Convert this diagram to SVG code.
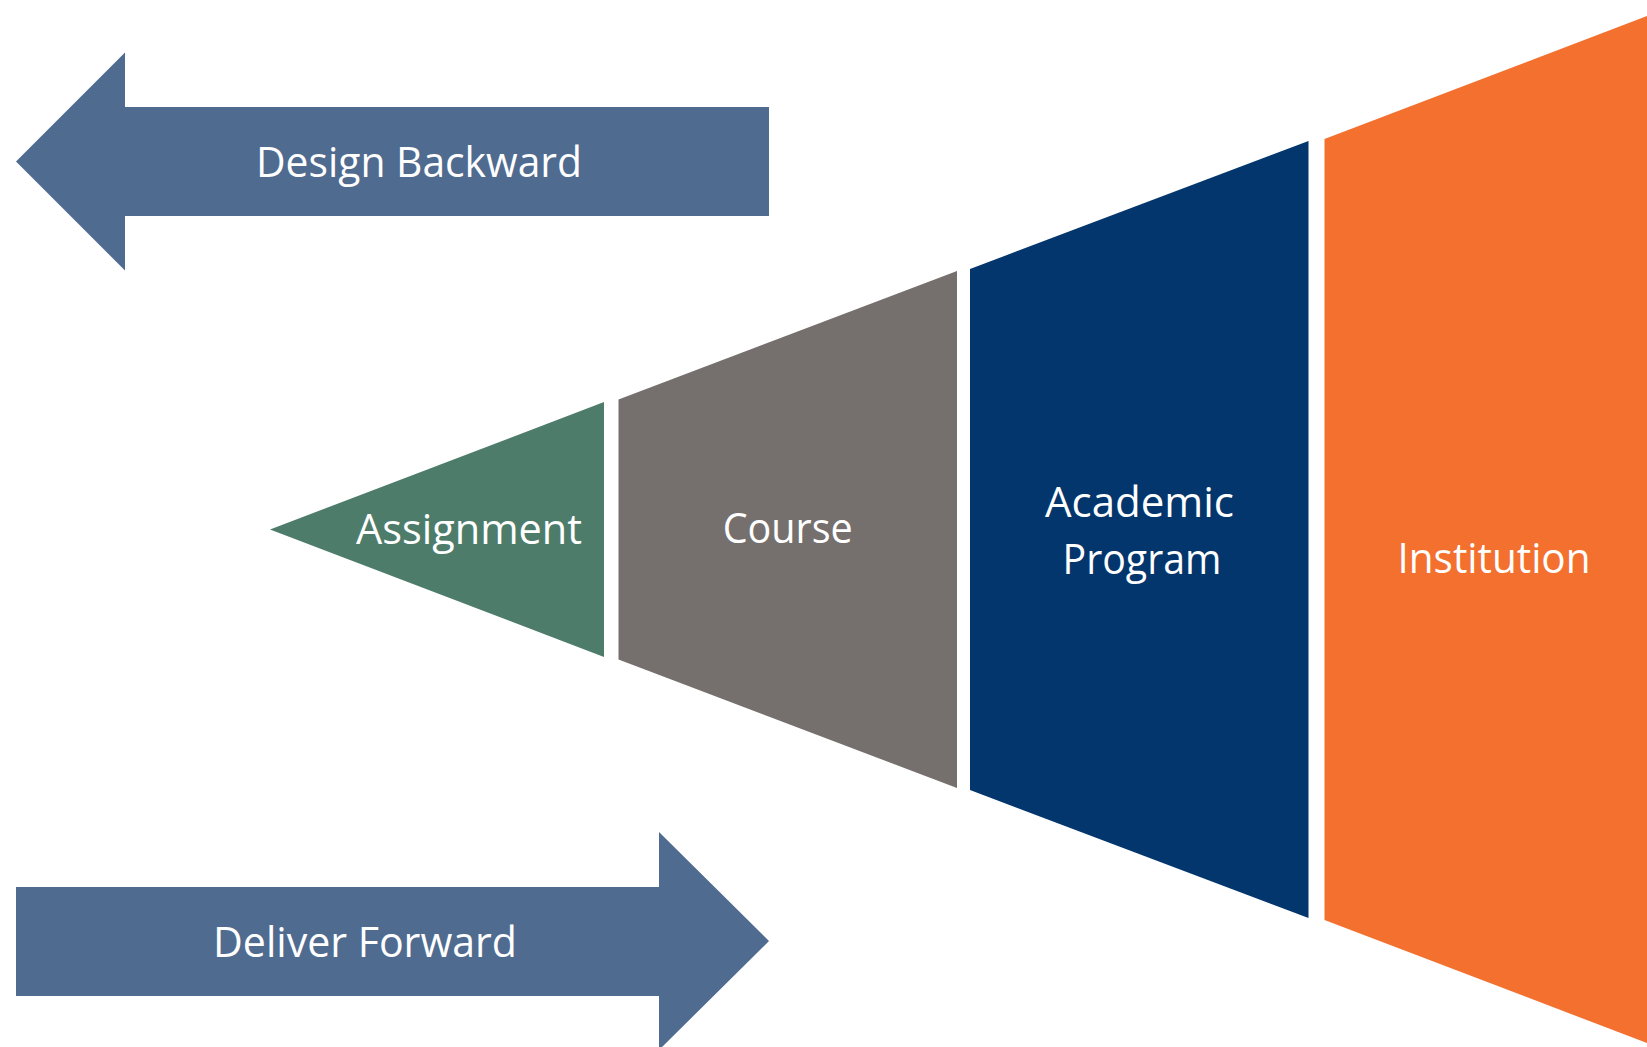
<svg xmlns="http://www.w3.org/2000/svg" width="1647" height="1047" viewBox="0 0 1647 1047">
<style>
.lbl{font-family:"Open Sans","Noto Sans","Liberation Sans",sans-serif;font-size:42px;fill:#ffffff;text-anchor:middle}
.arrow{fill:#4F6B8F}
</style>
<rect width="1647" height="1047" fill="#ffffff"/>
<g id="connectors">
<g id="design-backward">
<polygon class="arrow" points="16,161.5 125,52.5 125,107 769,107 769,216 125,216 125,270.5"/>
<text class="lbl" x="419" y="177" textLength="326" lengthAdjust="spacingAndGlyphs">Design Backward</text>
</g>
<g id="deliver-forward">
<polygon class="arrow" points="16,887 659,887 659,832 769,941 659,1050 659,996 16,996"/>
<text class="lbl" x="365" y="956.5" textLength="304" lengthAdjust="spacingAndGlyphs">Deliver Forward</text>
</g>
</g>
<g id="assignment">
<polygon fill="#4E7C6B" points="270,529.5 604,402 604,657"/>
<text class="lbl" x="469" y="544.3" textLength="226" lengthAdjust="spacingAndGlyphs">Assignment</text>
</g>
<g id="course">
<polygon fill="#75706E" points="618.5,399.5 957,271 957,788 618.5,659.5"/>
<text class="lbl" x="787.7" y="543.3" textLength="130" lengthAdjust="spacingAndGlyphs">Course</text>
</g>
<g id="academic-program">
<polygon fill="#03366C" points="970,269 1308.5,141 1308.5,918 970,790"/>
<text class="lbl" x="1139.5" y="516.7" textLength="189" lengthAdjust="spacingAndGlyphs">Academic</text>
<text class="lbl" x="1142" y="574" textLength="159" lengthAdjust="spacingAndGlyphs">Program</text>
</g>
<g id="institution">
<polygon fill="#F3702F" points="1324.5,139 1647,16 1647,1043 1324.5,920"/>
<text class="lbl" x="1494" y="573.3" textLength="193" lengthAdjust="spacingAndGlyphs">Institution</text>
</g>
</svg>
